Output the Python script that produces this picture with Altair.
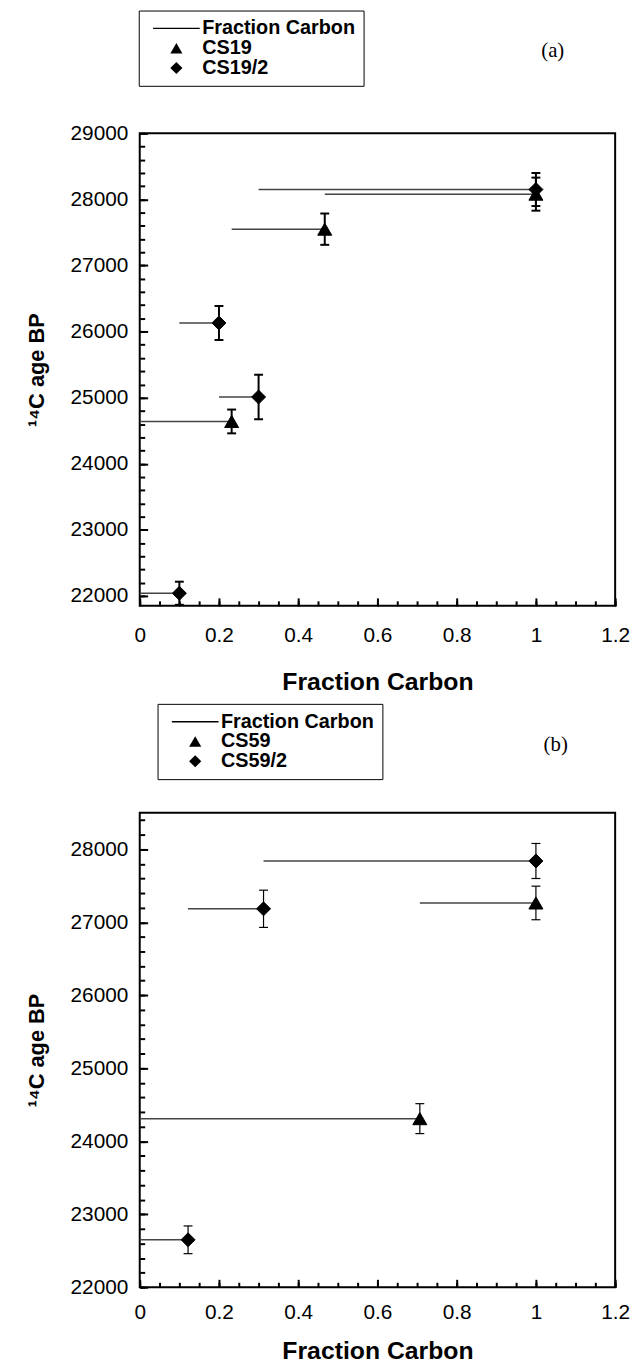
import altair as alt
import pandas as pd

# ---------------- data ----------------
# Panel (a)
a_names = ["Fraction Carbon", "CS19", "CS19/2"]
a_cs19_frac = [0.232, 0.467, 1.0]
a_cs19_start = [0.0, 0.232, 0.467]
a_cs19_age = [24640, 27550, 28080]
a_cs19_err = [180, 237, 250]

a_cs192_frac = [0.10, 0.20, 0.30, 1.0]
a_cs192_start = [0.0, 0.10, 0.20, 0.30]
a_cs192_age = [22040, 26130, 25010, 28150]
a_cs192_err = [175, 257, 337, 250]

# Panel (b)
b_names = ["Fraction Carbon", "CS59", "CS59/2"]
b_cs59_frac = [0.707, 1.0]
b_cs59_start = [0.0, 0.707]
b_cs59_age = [24310, 27265]
b_cs59_err = [205, 230]

b_cs592_frac = [0.122, 0.3125, 1.0]
b_cs592_start = [0.0, 0.122, 0.3125]
b_cs592_age = [22650, 27185, 27840]
b_cs592_err = [190, 255, 240]

panel_labels = ["(a)", "(b)"]
y_titles = ["\u00b9\u2074C age BP", "\u00b9\u2074C age  BP"]
x_title = "Fraction Carbon"

x_ticks = [0, 0.2, 0.4, 0.6, 0.8, 1.0, 1.2]
x_minor = [round(i * 0.05, 2) for i in range(25)]
a_y_ticks = [22000, 23000, 24000, 25000, 26000, 27000, 28000, 29000]
a_y_minor = [22000 + 200 * i for i in range(36)]
b_y_ticks = [22000, 23000, 24000, 25000, 26000, 27000, 28000]
b_y_minor = [22000 + 200 * i for i in range(33)]

a_domain = [21850, 29000]
b_domain = [22000, 28500]

FONT = "Liberation Sans"
W = 480
LINE_SYMBOL = "M-3.85,-0.12H3.85V0.12H-3.85Z"


def make_df(names, s1, s2):
    rows = []
    for name, (frac, start, age, err) in zip(names[1:], [s1, s2]):
        for f, s, g, e in zip(frac, start, age, err):
            rows.append(dict(series=name, frac=f, start=s, age=g, lo=g - e, hi=g + e))
    return pd.DataFrame(rows)


def panel(df, names, y_domain, y_major, y_minor, H, label, lx, ly, tx, ty, ytitle,
          err_w, lab_pad, tit_pad):
    xs = alt.Scale(domain=[0, 1.2], nice=False, zero=False)
    ys = alt.Scale(domain=y_domain, nice=False, zero=False)
    base = alt.Chart(df)

    lines = base.mark_rule(color="#444444", strokeWidth=1.5).encode(
        x=alt.X("start:Q", scale=xs, axis=alt.Axis(
            orient="bottom", values=x_ticks, format="~g", ticks=False, tickSize=0,
            domain=False, grid=False, labelFont=FONT, labelFontSize=21,
            labelColor="black", labelPadding=lab_pad, labelFlush=False, labelOverlap=False,
            title=x_title, titleFont=FONT, titleFontSize=25, titleFontWeight="bold",
            titleColor="black", titlePadding=tit_pad)),
        x2="frac:Q",
        y=alt.Y("age:Q", scale=ys, axis=alt.Axis(
            orient="left", values=y_major, format="d", ticks=False, tickSize=0,
            domain=False, grid=False, labelFont=FONT, labelFontSize=21,
            labelColor="black", labelPadding=12, labelOverlap=False,
            title=ytitle, titleFont=FONT, titleFontSize=22, titleFontWeight="bold",
            titleColor="black", titlePadding=22)),
    )

    errs = base.mark_rule(color="black", strokeWidth=err_w).encode(
        x=alt.X("frac:Q", scale=xs, axis=alt.Axis(
            orient="top", offset=-H, values=x_ticks, labels=False, domain=False,
            grid=False, tickSize=8, tickWidth=2, tickColor="black", title=None)),
        y=alt.Y("lo:Q", scale=ys, axis=alt.Axis(
            orient="right", offset=-W, values=y_major, labels=False, domain=False,
            grid=False, tickSize=8, tickWidth=2, tickColor="black", title=None)),
        y2="hi:Q",
    )

    caps = base.transform_fold(["lo", "hi"], as_=["end", "val"]).mark_tick(
        orient="horizontal", size=9, thickness=err_w, color="black", opacity=1
    ).encode(
        x=alt.X("frac:Q", scale=xs, axis=alt.Axis(
            orient="top", offset=-H, values=x_minor, labels=False, domain=False,
            grid=False, tickSize=5, tickWidth=2, tickColor="black", title=None)),
        y=alt.Y("val:Q", scale=ys, axis=alt.Axis(
            orient="right", offset=-W, values=y_minor, labels=False, domain=False,
            grid=False, tickSize=5, tickWidth=2, tickColor="black", title=None)),
    )

    pts = base.mark_point(filled=True, size=200, color="black", stroke="black",
                          strokeWidth=1, opacity=1).encode(
        x=alt.X("frac:Q", scale=xs, axis=None),
        y=alt.Y("age:Q", scale=ys, axis=None),
        shape=alt.Shape("series:N", scale=alt.Scale(
            domain=names, range=[LINE_SYMBOL, "triangle-up", "diamond"]),
            legend=alt.Legend(
                orient="none", legendX=lx, legendY=ly, title=None,
                labelFont=FONT, labelFontSize=20, labelFontWeight="bold",
                labelColor="black", symbolSize=150, symbolFillColor="black",
                symbolStrokeColor="black", symbolStrokeWidth=0, symbolOffset=20,
                labelOffset=16, padding=8, strokeColor="black", fillColor="white")),
    )

    lab = alt.Chart(pd.DataFrame({"label": [label]})).mark_text(
        font="Liberation Serif", fontSize=21, color="black", align="center",
        baseline="middle").encode(text="label:N", x=alt.value(tx), y=alt.value(ty))

    return alt.layer(lines, errs, caps, pts, lab).resolve_axis(
        x="independent", y="independent").properties(width=W, height=H)


df_a = make_df(a_names, (a_cs19_frac, a_cs19_start, a_cs19_age, a_cs19_err),
               (a_cs192_frac, a_cs192_start, a_cs192_age, a_cs192_err))
df_b = make_df(b_names, (b_cs59_frac, b_cs59_start, b_cs59_age, b_cs59_err),
               (b_cs592_frac, b_cs592_start, b_cs592_age, b_cs592_err))

pa = panel(df_a, a_names, a_domain, a_y_ticks, a_y_minor, 477, panel_labels[0],
           -1, -124, 417, -83, y_titles[0], 2, 19, 25)
pb = panel(df_b, b_names, b_domain, b_y_ticks, b_y_minor, 479, panel_labels[1],
           18, -110, 420, -68, y_titles[1], 1.2, 15, 16)

chart = alt.vconcat(pa, pb, spacing=6).resolve_scale(
    shape="independent", x="independent", y="independent"
).resolve_legend(shape="independent").properties(
    padding={"left": 16, "top": -6, "right": 0, "bottom": 0}
).configure_view(stroke="black", strokeWidth=2).configure_legend(rowPadding=0)

chart.save("out.html", embed_options={"renderer": "svg", "actions": False})
